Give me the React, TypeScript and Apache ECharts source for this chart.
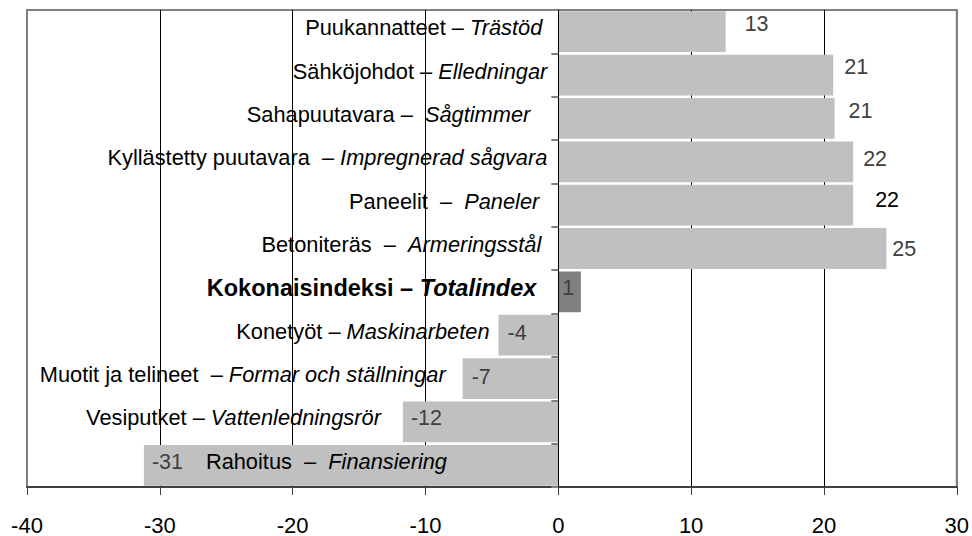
import React, { useEffect, useRef } from "react";
import * as echarts from "echarts";

// ---- data (top to bottom) ----
const namesFi = [
  "Puukannatteet – ",
  "Sähköjohdot – ",
  "Sahapuutavara –  ",
  "Kyllästetty puutavara  – ",
  "Paneelit  –  ",
  "Betoniteräs  –  ",
  "Kokonaisindeksi – ",
  "Konetyöt – ",
  "Muotit ja telineet  – ",
  "Vesiputket – ",
  "Rahoitus  –  ",
];
const namesSv = [
  "Trästöd",
  "Elledningar",
  "Sågtimmer",
  "Impregnerad sågvara",
  "Paneler",
  "Armeringsstål",
  "Totalindex",
  "Maskinarbeten",
  "Formar och ställningar",
  "Vattenledningsrör",
  "Finansiering",
];
const values = [12.6, 20.7, 20.8, 22.2, 22.2, 24.7, 1.7, -4.5, -7.2, -11.7, -31.2];
const valueLabels = ["13", "21", "21", "22", "22", "25", "1", "-4", "-7", "-12", "-31"];
const isTotal = [false, false, false, false, false, false, true, false, false, false, false];
const xTicks = { min: -40, max: 30, interval: 10 };

// ---- label placement tweaks (style, not data) ----
const valueGap = [19, 11, 14, 10, 22, 6, 4, 9, 9, 8, 8];
const valueDy = [-8, -8, -7, -3, -5, 0, -4, -2, -2, -4, -3];
const valueColor = ["#404040", "#404040", "#404040", "#404040", "#000000", "#404040", "#404040", "#404040", "#404040", "#404040", "#404040"];
const nameGap = [16, 11, 28, 11, 19, 17, 22, 9, 17, 22, 62];
const nameInside = [false, false, false, false, false, false, false, false, false, false, true];

const FONT = "'Liberation Sans', Arial, Helvetica, sans-serif";

export default function App() {
  const ref = useRef<HTMLDivElement>(null);
  useEffect(() => {
    if (!ref.current) return;
    const chart = echarts.init(ref.current, undefined, { renderer: "svg" });
    const cats = namesFi.map((f, i) => f + namesSv[i]);

    const valueData = values.map((v, i) => ({
      value: v,
      itemStyle: { color: isTotal[i] ? "#808080" : "#c0c0c0" },
      label: {
        show: true,
        position: v >= 0 && !isTotal[i] ? "right" : "insideLeft",
        distance: valueGap[i],
        offset: [0, valueDy[i]],
        color: valueColor[i],
        fontSize: 21.5,
        fontFamily: FONT,
        formatter: () => valueLabels[i],
      },
    }));

    const nameData = values.map((v, i) => ({
      value: v,
      label: {
        show: true,
        position: nameInside[i] ? "insideLeft" : "left",
        distance: nameGap[i],
        offset: [0, -4],
        formatter: () =>
          isTotal[i]
            ? `{bn|${namesFi[i]}}{bi|${namesSv[i]}}`
            : `{n|${namesFi[i]}}{i|${namesSv[i]}}`,
        rich: {
          n: { fontSize: 21.8, color: "#000", fontFamily: FONT },
          i: { fontSize: 21.8, color: "#000", fontFamily: FONT, fontStyle: "italic" },
          bn: { fontSize: 23.5, color: "#000", fontFamily: FONT, fontWeight: "bold" },
          bi: { fontSize: 23.5, color: "#000", fontFamily: FONT, fontWeight: "bold", fontStyle: "italic" },
        },
      },
    }));

    chart.setOption({
      animation: false,
      grid: {
        left: 27,
        right: 15,
        top: 10,
        bottom: 47,
        show: true,
        borderColor: "#808080",
        borderWidth: 2,
        backgroundColor: "transparent",
      },
      xAxis: {
        type: "value",
        min: xTicks.min,
        max: xTicks.max,
        interval: xTicks.interval,
        axisLine: { show: true, onZero: false, lineStyle: { color: "#404040", width: 2 } },
        axisTick: { show: true, length: 8, lineStyle: { color: "#404040", width: 1 } },
        axisLabel: { fontSize: 22, color: "#000", fontFamily: FONT, margin: 27 },
        splitLine: {
          show: true,
          lineStyle: {
            color: ["#808080", "#000", "#000", "#000", "#000", "#000", "#000", "#808080"],
            width: 1,
          },
        },
      },
      yAxis: {
        type: "category",
        inverse: true,
        data: cats,
        z: 5,
        axisLine: { show: true, onZero: true, lineStyle: { color: "#000", width: 1 } },
        axisTick: { show: true, length: 7, lineStyle: { color: "#808080", width: 2 } },
        axisLabel: { show: false },
        splitLine: { show: false },
      },
      series: [
        {
          type: "bar",
          name: "values",
          data: valueData,
          barCategoryGap: "6%",
          barGap: "-100%",
          z: 2,
        },
        {
          type: "bar",
          name: "names",
          data: nameData,
          barCategoryGap: "6%",
          barGap: "-100%",
          itemStyle: { color: "rgba(0,0,0,0)" },
          silent: true,
          z: 3,
        },
      ],
    });
    return () => chart.dispose();
  }, []);
  return (
    <div
      ref={ref}
      style={{ position: "fixed", left: 0, top: 0, width: 972, height: 536, background: "#fff" }}
    />
  );
}
